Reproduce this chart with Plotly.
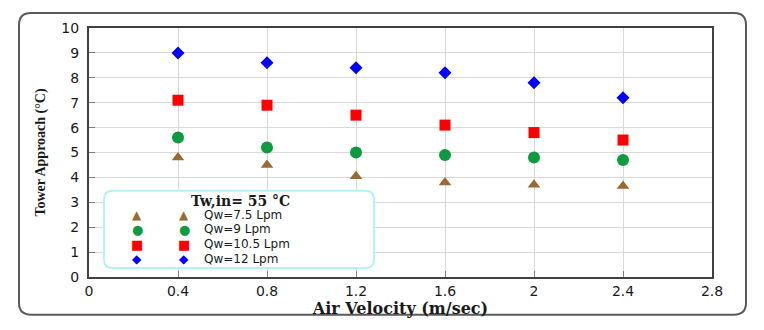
import plotly.graph_objects as go

# data
air_velocity = [0.4, 0.8, 1.2, 1.6, 2.0, 2.4]
approach_q75 = [4.8, 4.5, 4.05, 3.8, 3.7, 3.65]
approach_q9 = [5.6, 5.2, 5.0, 4.9, 4.8, 4.7]
approach_q105 = [7.1, 6.9, 6.5, 6.1, 5.8, 5.5]
approach_q12 = [9.0, 8.6, 8.4, 8.2, 7.8, 7.2]
flow_labels = ["Qw=7.5 Lpm", "Qw=9 Lpm", "Qw=10.5 Lpm", "Qw=12 Lpm"]

# (values, symbol, colour, marker size, legend glyph, glyph size)
series = [
    (approach_q75, "triangle-up", "#9b6a33", 11, "▲", 12),
    (approach_q9, "circle", "#0e9a3e", 12, "●", 13),
    (approach_q105, "square", "#ff0000", 11, "■", 13),
    (approach_q12, "diamond", "#0000ff", 10, "◆", 12),
]

fig = go.Figure()

for (vals, symbol, color, size, glyph, gsize), label in zip(series, flow_labels):
    fig.add_trace(go.Scatter(
        x=air_velocity,
        y=vals,
        mode="markers",
        marker=dict(symbol=symbol, color=color, size=size),
        name=label,
        showlegend=False,
    ))

# the page body adds an 8px margin, so the figure is 8px smaller than the window
W, H = 756, 322
PL, PR, PT, PB = 89, 712, 26, 277   # plot area in window pixels
OFF = 8


def px(x):
    return (x - PL) / (PR - PL)


def py(y):
    return (PB - y) / (PB - PT)


def rounded_rect(x0, y0, x1, y1, r):
    # window pixel coordinates, converted to paper
    pts = [
        f"M {px(x0 + r)} {py(y0)}",
        f"L {px(x1 - r)} {py(y0)}",
        f"Q {px(x1)} {py(y0)} {px(x1)} {py(y0 + r)}",
        f"L {px(x1)} {py(y1 - r)}",
        f"Q {px(x1)} {py(y1)} {px(x1 - r)} {py(y1)}",
        f"L {px(x0 + r)} {py(y1)}",
        f"Q {px(x0)} {py(y1)} {px(x0)} {py(y1 - r)}",
        f"L {px(x0)} {py(y0 + r)}",
        f"Q {px(x0)} {py(y0)} {px(x0 + r)} {py(y0)}",
        "Z",
    ]
    return " ".join(pts)


shapes = [
    # outer chart frame
    dict(type="path", xref="paper", yref="paper", layer="below",
         path=rounded_rect(19, 11, 746, 315, 12),
         line=dict(color="#5a5a5a", width=2)),
    # legend box
    dict(type="path", xref="paper", yref="paper", layer="above",
         path=rounded_rect(104, 190, 374, 268, 9),
         fillcolor="white",
         line=dict(color="#b5f1f8", width=2)),
]

# hand-made legend (Excel style, two keys per entry)
annotations = [dict(
    xref="paper", yref="paper", x=px(240), y=py(200),
    xanchor="center", yanchor="middle", showarrow=False,
    text="<b>Tw,in= 55 °C</b>",
    font=dict(family="DejaVu Serif", size=14, color="#1a1a1a"),
)]
row_y = [214, 229, 244, 259]
for (vals, symbol, color, size, glyph, gsize), label, ry in zip(series, flow_labels, row_y):
    for gx in (137, 184):
        annotations.append(dict(
            xref="paper", yref="paper", x=px(gx), y=py(ry),
            xanchor="center", yanchor="middle", showarrow=False,
            text=glyph, font=dict(family="DejaVu Sans", size=gsize, color=color),
        ))
    annotations.append(dict(
        xref="paper", yref="paper", x=px(202), y=py(ry),
        xanchor="left", yanchor="middle", showarrow=False,
        text=label, font=dict(family="DejaVu Sans", size=12, color="#1a1a1a"),
    ))

fig.update_layout(
    width=W,
    height=H,
    margin=dict(l=PL - OFF, r=W - (PR - OFF), t=PT - OFF, b=H - (PB - OFF)),
    paper_bgcolor="white",
    plot_bgcolor="white",
    shapes=shapes,
    annotations=annotations,
    showlegend=False,
    font=dict(family="DejaVu Sans", size=13, color="#1a1a1a"),
)

fig.update_xaxes(
    range=[0, 2.8], dtick=0.4, tick0=0,
    showgrid=True, gridcolor="#d9d9d9", gridwidth=1,
    showline=True, linecolor="#404040", linewidth=2, mirror=True,
    ticks="inside", ticklen=6, tickcolor="#7f7f7f",
    tickfont=dict(family="DejaVu Sans", size=14, color="#1a1a1a"),
    zeroline=False,
    title=dict(text="<b>Air Velocity (m/sec)</b>", standoff=2,
               font=dict(family="DejaVu Serif", size=16, color="#1a1a1a")),
)
fig.update_yaxes(
    range=[0, 10], dtick=1, tick0=0,
    showgrid=True, gridcolor="#d9d9d9", gridwidth=1,
    showline=True, linecolor="#404040", linewidth=2, mirror=True,
    ticks="inside", ticklen=6, tickcolor="#7f7f7f",
    ticklabelstandoff=5,
    tickfont=dict(family="DejaVu Sans", size=14, color="#1a1a1a"),
    zeroline=False,
    title=dict(text="<b>Tower Approach (°C)</b>", standoff=12,
               font=dict(family="Liberation Serif", size=14, color="#1a1a1a")),
)

fig.write_html("out.html")
